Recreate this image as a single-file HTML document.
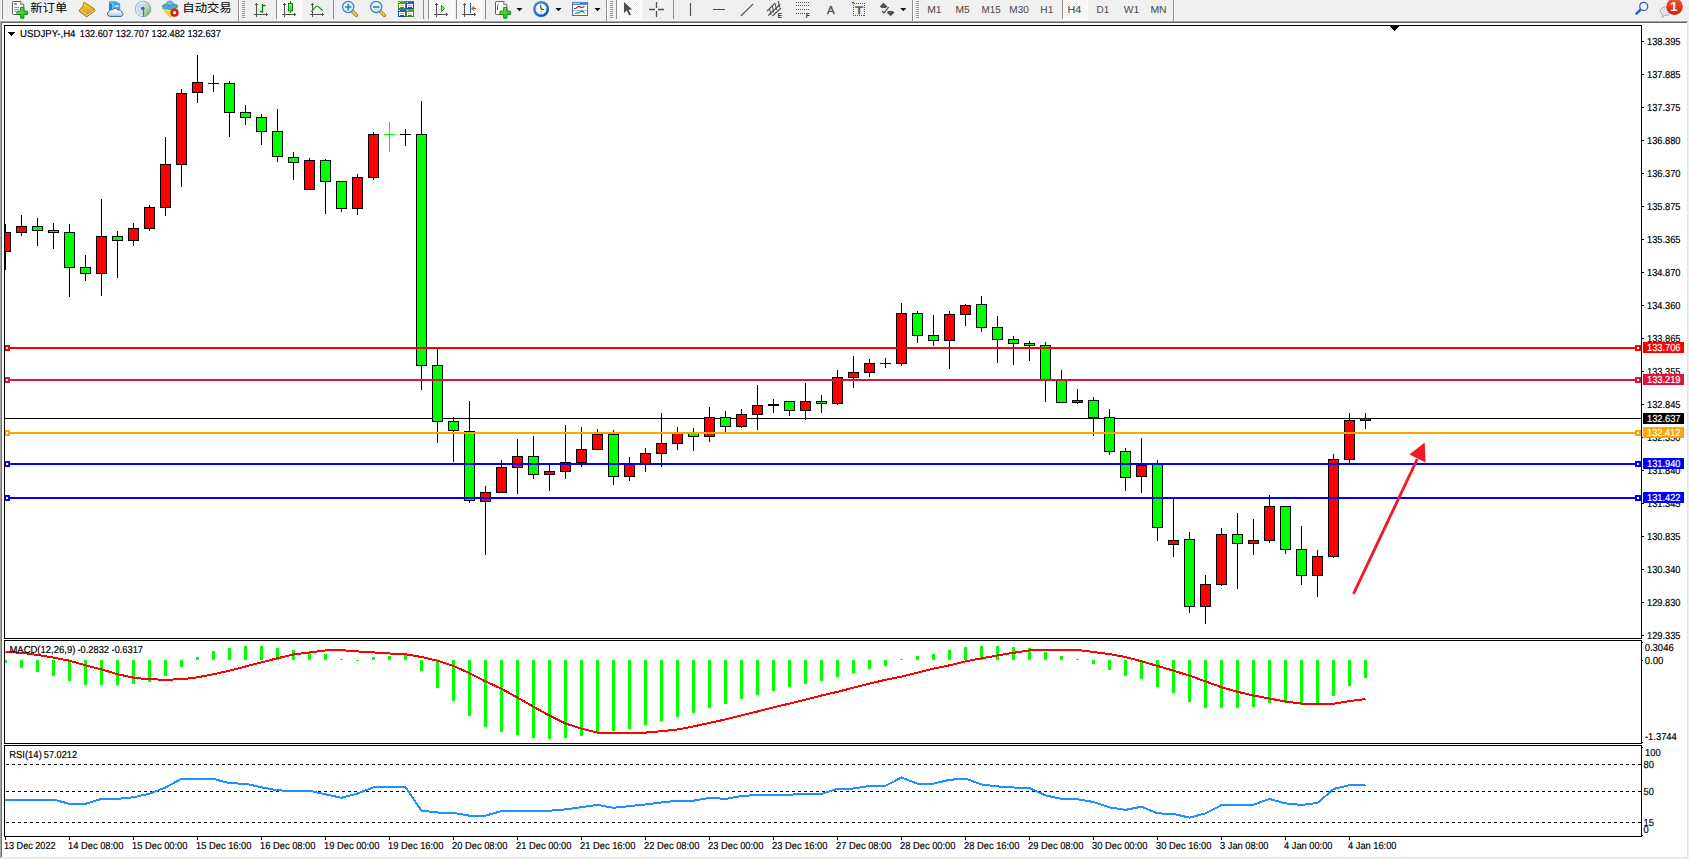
<!DOCTYPE html>
<html lang="zh"><head><meta charset="utf-8"><title>USDJPY-,H4</title>
<style>
html,body{margin:0;padding:0;background:#f0f0f0;}
body{width:1689px;height:859px;overflow:hidden;position:relative;font-family:"Liberation Sans","Noto Sans CJK SC",sans-serif;}
svg{position:absolute;left:0;top:0;display:block}
.t{font-family:"Liberation Sans","Noto Sans CJK SC",sans-serif;font-size:10.2px;fill:#000;stroke:#000;stroke-width:0.18px;text-rendering:geometricPrecision}
.w{fill:#fff;stroke:#fff}
.cj{font-family:"Liberation Sans","Noto Sans CJK SC",sans-serif;font-size:11.8px;fill:#000}
.tf{font-family:"Liberation Sans","Noto Sans CJK SC",sans-serif;font-size:10.2px;fill:#484848;text-rendering:geometricPrecision}
.c{shape-rendering:crispEdges}
</style></head><body>
<svg width="1689" height="859" viewBox="0 0 1689 859">
<rect x="0" y="0" width="1689" height="859" fill="#f0f0f0"/>
<g class="c">
<rect x="0" y="20" width="1689" height="1" fill="#f6f6f6"/>
<rect x="0" y="21" width="1688" height="1" fill="#a0a0a0"/>
<rect x="0" y="22" width="1687" height="1" fill="#696969"/>
<rect x="2" y="23" width="1685" height="834" fill="#fff"/>
<rect x="0" y="21" width="1" height="837" fill="#a6a6a6"/>
<rect x="1" y="22" width="1" height="835" fill="#6e6e6e"/>
<rect x="1687" y="23" width="1" height="834" fill="#e3e3e3"/>
<rect x="2" y="857" width="1686" height="1" fill="#e3e3e3"/>
</g>
<g id="toolbar">
<defs>
<pattern id="chk" width="2" height="2" patternUnits="userSpaceOnUse"><rect width="2" height="2" fill="#ffffff"/><rect width="1" height="1" fill="#f0f0f0"/><rect x="1" y="1" width="1" height="1" fill="#f0f0f0"/></pattern>
<linearGradient id="gp" x1="0" y1="0" x2="1" y2="1"><stop offset="0" stop-color="#7df07d"/><stop offset="1" stop-color="#10b010"/></linearGradient>
<linearGradient id="gold" x1="0" y1="0" x2="0" y2="1"><stop offset="0" stop-color="#f8d840"/><stop offset="1" stop-color="#d09818"/></linearGradient>
<linearGradient id="badge" x1="0" y1="0" x2="0" y2="1"><stop offset="0" stop-color="#ea5a3a"/><stop offset="1" stop-color="#dc1c00"/></linearGradient>
<radialGradient id="lens" cx="0.4" cy="0.35" r="0.7"><stop offset="0" stop-color="#f4fbff"/><stop offset="1" stop-color="#bfe4f7"/></radialGradient>
<g id="axes" fill="#505050" shape-rendering="crispEdges"><rect x="2" y="3" width="1" height="14"/><rect x="1" y="4" width="3" height="1"/><rect x="0" y="14" width="14" height="1"/><rect x="12" y="13" width="1" height="3"/><rect x="0.600" y="5" width="0.800" height="0.600" fill="#b0b0b0"/><rect x="3.600" y="5" width="0.800" height="0.600" fill="#b0b0b0"/></g>
<g id="dd"><path d="M0 0h6l-3 3.2z" fill="#000"/></g>
<g id="grip" fill="#9a9a9a"><rect x="0" y="1" width="3" height="1"/><rect x="0" y="3" width="3" height="1"/><rect x="0" y="5" width="3" height="1"/><rect x="0" y="7" width="3" height="1"/><rect x="0" y="9" width="3" height="1"/><rect x="0" y="11" width="3" height="1"/><rect x="0" y="13" width="3" height="1"/><rect x="0" y="15" width="3" height="1"/><rect x="0" y="17" width="3" height="1"/></g>
<g id="docplus">
<path d="M1.300 1.500h7.400l3.100 3.100v9.100a0.800 0.800 0 0 1-.8.800h-9.700a0.800 0.800 0 0 1-.8-.800v-11.400a0.800 0.800 0 0 1 .8-.800z" fill="#fff" stroke="#606060" stroke-width="1"/>
<path d="M8.700 1.500v3.100h3.100" fill="#e8e8e8" stroke="#606060" stroke-width="0.800"/>
<path d="M8.7 7.4h3.2v3.8h3.7v3.2h-3.7v3.8h-3.2v-3.8h-3.7v-3.2h3.7z" fill="url(#gp)" stroke="#0c8c0c" stroke-width="1" stroke-linejoin="round"/>
</g>
</defs>
<g class="c">
<!-- pressed button backgrounds -->
<rect x="277" y="0" width="24" height="19" fill="url(#chk)"/><rect x="301" y="0" width="1" height="20" fill="#fff"/><rect x="276" y="19" width="25" height="1" fill="#fff"/>
<rect x="429" y="0" width="24" height="19" fill="url(#chk)"/><rect x="453" y="0" width="1" height="20" fill="#fff"/><rect x="428" y="19" width="25" height="1" fill="#fff"/>
<rect x="457" y="0" width="24" height="19" fill="url(#chk)"/><rect x="481" y="0" width="1" height="20" fill="#fff"/><rect x="456" y="19" width="25" height="1" fill="#fff"/>
<rect x="617" y="0" width="24" height="19" fill="url(#chk)"/><rect x="641" y="0" width="1" height="20" fill="#fff"/><rect x="616" y="19" width="25" height="1" fill="#fff"/>
<rect x="1063" y="0" width="24" height="19" fill="url(#chk)"/><rect x="1087" y="0" width="1" height="20" fill="#fff"/><rect x="1062" y="19" width="25" height="1" fill="#fff"/>
<!-- separators -->
<g fill="#8e8e8e">
<rect x="2" y="0" width="1" height="19"/>
<rect x="238" y="0" width="1" height="21"/>
<rect x="276" y="0" width="1" height="19"/>
<rect x="333" y="0" width="1" height="19"/>
<rect x="423" y="0" width="1" height="19"/>
<rect x="428" y="0" width="1" height="19"/>
<rect x="456" y="0" width="1" height="19"/>
<rect x="485" y="0" width="1" height="19"/>
<rect x="606" y="0" width="1" height="21"/>
<rect x="616" y="0" width="1" height="19"/>
<rect x="673" y="0" width="1" height="19"/>
<rect x="912" y="0" width="1" height="21"/>
<rect x="1062" y="0" width="1" height="19"/>
<rect x="1173" y="0" width="1" height="21"/>
</g>
<g fill="#fff">
<rect x="239" y="0" width="1" height="21"/><rect x="607" y="0" width="1" height="21"/><rect x="913" y="0" width="1" height="21"/><rect x="1174" y="0" width="1" height="21"/>
</g>
<use href="#grip" x="242" y="0"/><use href="#grip" x="610" y="0"/><use href="#grip" x="916" y="0"/>
</g>
<!-- new order -->
<use href="#docplus" x="12" y="0"/>
<g fill="#9a9a9a" class="c"><rect x="14" y="3" width="3" height="2"/><rect x="14" y="7" width="5" height="1"/><rect x="14" y="9" width="5" height="1"/><rect x="14" y="11" width="3" height="1"/></g>
<text class="cj" x="30.300" y="11.600" textLength="37" lengthAdjust="spacingAndGlyphs">新订单</text>
<!-- book -->
<path d="M86.600 16.900L79 10.900 82.700 6.600 84.200 2.300 94.300 8.900 94.900 10.800z" fill="#f4eec0" stroke="#a86c10" stroke-width="1" stroke-linejoin="round"/>
<path d="M84.300 2.400L94.200 9 86.300 15 79.300 10.700 82.800 6.600z" fill="url(#gold)" stroke="#b07814" stroke-width="0.700" stroke-linejoin="round"/>
<path d="M80.300 10.200l6.400 4.300" stroke="#fbe68a" stroke-width="1" fill="none"/>
<path d="M79.400 11.300l7.200 5.200 8-6" stroke="#c08820" stroke-width="0.800" fill="none"/>
<!-- server + cloud -->
<path d="M109.100 1.500h7l4 2.400v6.600h-11z" fill="#1f98fa"/>
<path d="M109.100 1.500h7l4 2.400h-7.300z" fill="#3aa8ff"/>
<path d="M109.100 1.500l3.700 2.400v6.600h-3.700z" fill="#0a8cf0"/>
<path d="M112.800 3.900h7.300v6.600h-7.300z" fill="#38a6ff"/>
<path d="M109.300 1.700l3.500 2.300v6" stroke="#d6eeff" stroke-width="0.700" fill="none"/>
<rect x="114.300" y="5.500" width="4.500" height="1.300" fill="#eef8ff"/>
<linearGradient id="cl" x1="0" y1="0" x2="0" y2="1"><stop offset="0.250" stop-color="#ffffff"/><stop offset="1" stop-color="#b4c4de"/></linearGradient>
<path d="M110.200 16.400a2.700 2.700 0 0 1-.7-5.300 2.500 2.500 0 0 1 3.300-1.300 3 3 0 0 1 5.400.5 2.500 2.500 0 0 1 3.600 1.800 2.300 2.300 0 0 1-.9 4.300z" fill="url(#cl)" stroke="#3f5f9f" stroke-width="1"/>
<!-- signal -->
<linearGradient id="sg" x1="0.1" y1="0" x2="0.9" y2="1"><stop offset="0" stop-color="#e6f0e2"/><stop offset="0.5" stop-color="#b4d8b0"/><stop offset="1" stop-color="#3fa648"/></linearGradient>
<circle cx="143" cy="9" r="7.600" fill="#f3f3ee"/>
<path d="M143 9V1.200A7.800 7.800 0 0 1 143 16.800z" fill="url(#sg)" opacity="0.92"/>
<g fill="none" stroke-width="1.100">
<path d="M143 1.300A7.700 7.700 0 0 0 143 16.700" stroke="#7d9ae6" opacity="0.7"/>
<path d="M143 3.800A5.200 5.200 0 0 0 143 14.200" stroke="#86a2e8" opacity="0.65"/>
<path d="M143 6A3 3 0 0 0 143 12" stroke="#a8bdf0" opacity="0.7"/>
<path d="M143 1.300A7.700 7.700 0 0 1 143 16.700" stroke="#5f94a8" opacity="0.6"/>
<path d="M143 3.800A5.200 5.200 0 0 1 143 14.200" stroke="#7fb0b0" opacity="0.5"/>
<path d="M143 6A3 3 0 0 1 143 12" stroke="#9cc4b8" opacity="0.5"/>
</g>
<circle cx="142.800" cy="8.500" r="1.800" fill="#2f5ad0"/>
<path d="M143.500 9v7.700" stroke="#22a022" stroke-width="1.300" fill="none"/>
<!-- auto trading -->
<path d="M162.400 8.300l15.400-.8-6.400 9-1.600.3z" fill="#f6dc48" stroke="#c8a428" stroke-width="0.700" stroke-linejoin="round"/>
<path d="M162 6.500c.6-1.700 2.600-2.300 4.400-2.500 1.800 1.400 5.400 1.400 7.200 0 1.800.2 3.800.6 4.400 2 -1 2.200-4.400 3.200-8.200 3.200s-6.800-.9-7.800-2.700z" fill="#4aa8dc" stroke="#1f86b6" stroke-width="0.700"/>
<path d="M166.300 4.300c.2-2 1.600-3.300 3.600-3.300s3.500 1.300 3.700 3.300c-1.600 1.500-5.600 1.500-7.300 0z" fill="#6cc0ec" stroke="#1f86b6" stroke-width="0.600"/>
<circle cx="174.500" cy="12.700" r="4.100" fill="#de2810"/>
<circle cx="174.500" cy="12.700" r="3.600" fill="none" stroke="#c01800" stroke-width="0.600" opacity="0.600"/>
<rect x="173.200" y="11.300" width="2.700" height="2.700" fill="#fff"/>
<text class="cj" x="182.300" y="11.500" textLength="49.400" lengthAdjust="spacingAndGlyphs">自动交易</text>
<!-- chart type icons -->
<use href="#axes" x="254" y="0"/>
<path d="M262.500 4v9M262.500 5.500h3M259.800 11.500h2.700" stroke="#0a8a0a" stroke-width="1.300" fill="none"/>
<use href="#axes" x="282" y="0"/>
<linearGradient id="cg" x1="0" y1="0" x2="1" y2="1"><stop offset="0" stop-color="#8cff9c"/><stop offset="1" stop-color="#28cc3c"/></linearGradient>
<rect x="290" y="1" width="1" height="12" fill="#089008" class="c"/><rect x="288.500" y="3.500" width="4" height="7.500" fill="url(#cg)" stroke="#089008" stroke-width="1"/>
<use href="#axes" x="310" y="0"/>
<path d="M311 11.800c2.500-1.500 4-5.600 6.200-5.600 1.800 0 3.200 3.400 5.600 4.200" stroke="#2a9a2a" stroke-width="1.300" fill="none"/>
<!-- zoom in/out -->
<g>
<path d="M352.500 11.500l3.900 3.900" stroke="#a07810" stroke-width="3.400" stroke-linecap="round"/><path d="M352.500 11.500l3.700 3.700" stroke="#f0d030" stroke-width="1.800" stroke-linecap="round"/>
<circle cx="348.200" cy="7" r="5.600" fill="url(#lens)" stroke="#3a80cc" stroke-width="1.200"/>
<path d="M345 7h6.400M348.200 3.800v6.400" stroke="#3a82aa" stroke-width="1.700"/>
<path d="M380.500 11.500l3.900 3.900" stroke="#a07810" stroke-width="3.400" stroke-linecap="round"/><path d="M380.500 11.500l3.700 3.700" stroke="#f0d030" stroke-width="1.800" stroke-linecap="round"/>
<circle cx="376.200" cy="7" r="5.600" fill="url(#lens)" stroke="#3a80cc" stroke-width="1.200"/>
<path d="M373 7h6.400" stroke="#3a82aa" stroke-width="1.700"/>
</g>
<!-- tile windows -->
<linearGradient id="tg" x1="0" y1="0" x2="0" y2="1"><stop offset="0" stop-color="#fff" stop-opacity="0.18"/><stop offset="0.4" stop-color="#fff" stop-opacity="0"/><stop offset="1" stop-color="#000" stop-opacity="0.12"/></linearGradient>
<g class="c">
<rect x="398" y="1" width="8" height="8" fill="#3a9a12"/>
<rect x="399" y="4" width="6" height="4" fill="#fff"/>
<rect x="400" y="5" width="4" height="1" fill="#a8dc90"/>
<rect x="400" y="7" width="4" height="1" fill="#3a9a12"/>
<rect x="399" y="2" width="1" height="1" fill="#e8f0ff"/>
<rect x="398" y="1" width="8" height="8" fill="url(#tg)"/>
<rect x="406" y="1" width="8" height="8" fill="#1c48c8"/>
<rect x="407" y="4" width="6" height="4" fill="#fff"/>
<rect x="408" y="5" width="4" height="1" fill="#9ab0f4"/>
<rect x="408" y="7" width="4" height="1" fill="#1c48c8"/>
<rect x="407" y="2" width="1" height="1" fill="#e8f0ff"/>
<rect x="406" y="1" width="8" height="8" fill="url(#tg)"/>
<rect x="398" y="9" width="8" height="8" fill="#1c48c8"/>
<rect x="399" y="12" width="6" height="4" fill="#fff"/>
<rect x="400" y="13" width="4" height="1" fill="#9ab0f4"/>
<rect x="400" y="15" width="4" height="1" fill="#1c48c8"/>
<rect x="399" y="10" width="1" height="1" fill="#e8f0ff"/>
<rect x="398" y="9" width="8" height="8" fill="url(#tg)"/>
<rect x="406" y="9" width="8" height="8" fill="#3a9a12"/>
<rect x="407" y="12" width="6" height="4" fill="#fff"/>
<rect x="408" y="13" width="4" height="1" fill="#a8dc90"/>
<rect x="408" y="15" width="4" height="1" fill="#3a9a12"/>
<rect x="407" y="10" width="1" height="1" fill="#e8f0ff"/>
<rect x="406" y="9" width="8" height="8" fill="url(#tg)"/>
</g>
<!-- autoscroll / shift -->
<use href="#axes" x="434" y="0"/>
<path d="M441.400 5.300l3.300 3.200-3.300 3.200z" fill="#7fe07f" stroke="#0a9a0a" stroke-width="1"/>
<use href="#axes" x="462" y="0"/>
<rect x="470" y="3" width="1" height="10" fill="#1a6a9c" class="c"/>
<path d="M471.300 8.500l2.700-2.300-.4 1.900h2.400v0.800h-2.400l.4 1.900z" fill="#ec5c00" stroke="#9a3a00" stroke-width="0.300"/>
<!-- indicators doc plus -->
<use href="#docplus" x="495" y="0"/>
<path d="M499 4.500c-1.500 0-1.500 1.200-1.500 2.500v3" stroke="#555" stroke-width="0.900" fill="none"/>
<use href="#dd" x="516.500" y="8"/>
<!-- clock -->
<linearGradient id="ck" x1="0.2" y1="0" x2="0.8" y2="1"><stop offset="0" stop-color="#3a9cf8"/><stop offset="1" stop-color="#0a48a8"/></linearGradient>
<circle cx="541.100" cy="9" r="8" fill="url(#ck)"/>
<circle cx="541.100" cy="9" r="5.500" fill="#fcfcfc"/>
<g stroke="#9a9a9a" stroke-width="0.700"><path d="M541.100 4v1M541.100 13v1M536.100 9h1M545.100 9h1M537.600 5.500l.7.700M544.600 5.500l-.7.700M537.600 12.500l.7-.7M544.600 12.500l-.7-.7"/></g>
<path d="M540.700 5.200l.3 4 2.700.2" stroke="#111" stroke-width="1" fill="none"/>
<path d="M539.900 11.700h2.400" stroke="#6aa8f0" stroke-width="0.700"/>
<use href="#dd" x="555.500" y="8"/>
<!-- templates -->
<g class="c"><rect x="572" y="2" width="16" height="14" fill="#fff" stroke="none"/><rect x="572" y="2" width="16" height="3" fill="#4a88d8"/><rect x="573" y="3" width="7" height="1" fill="#a8ccf4"/><rect x="572" y="2" width="1" height="14" fill="#3a6fc0"/><rect x="587" y="2" width="1" height="14" fill="#3a6fc0"/><rect x="572" y="15" width="16" height="1" fill="#3a6fc0"/><rect x="573" y="10" width="14" height="1" fill="#9ab8e0"/></g>
<path d="M574 8.500l2-.2 1.500-1.300 2-.6 1.500 1 2-.2 1.500-1" stroke="#a02000" stroke-width="1.100" fill="none"/>
<path d="M575 13.800l2-1 1.500.4 2.500-2 2 .4 1.500 1.800" stroke="#109030" stroke-width="1.100" fill="none"/>
<use href="#dd" x="594.500" y="8"/>
<!-- cursor -->
<path d="M624 2v11.200l2.700-2.600 2.500 5 1.800-.9-2.500-4.900 3.700-.3z" fill="#505050"/>
<!-- crosshair -->
<path d="M656.500 2v6M656.500 11v6M649 9.500h6M658 9.500h6" stroke="#505050" stroke-width="1.300" fill="none"/>
<!-- vline, hline, trend -->
<path d="M690.500 3v13M713 9.500h12M740.800 16L753.200 3.800" stroke="#505050" stroke-width="1.150" fill="none"/>
<!-- channel -->
<g stroke="#505050" stroke-width="1.200" fill="none"><path d="M767 11.200L775 3.200M768.300 15.500L780.200 4.300M772.500 16L781 8"/><path d="M769.500 8.500l1.500 6.500M772.300 6l1.500 6.500M775.100 3.500l1.500 6.500M778.300 1l1.200 6.500" stroke-width="1.100"/></g>
<text x="777.800" y="17.600" style="font-family:'Liberation Sans',sans-serif;font-size:6.500px;font-weight:bold;fill:#333">E</text>
<!-- fibo -->
<g stroke="#505050" stroke-width="1" stroke-dasharray="1 1" class="c"><path d="M796 2.500h14M796 5.500h14M796 9.500h14M796 13.500h10"/></g>
<text x="805.800" y="17.600" style="font-family:'Liberation Sans',sans-serif;font-size:6.500px;font-weight:bold;fill:#333">F</text>
<!-- A -->
<text x="827" y="14" style="font-family:'Liberation Sans',sans-serif;font-size:11.400px;fill:#505050;stroke:#505050;stroke-width:0.350">A</text>
<!-- text label -->
<rect x="853.500" y="3.500" width="11" height="12" fill="none" stroke="#505050" stroke-width="1" stroke-dasharray="1 1" class="c"/>
<text x="855" y="13.600" textLength="8.200" lengthAdjust="spacingAndGlyphs" style="font-family:'Liberation Sans',sans-serif;font-size:10.600px;fill:#505050;stroke:#505050;stroke-width:0.400;text-rendering:geometricPrecision">T</text>
<rect x="852" y="2" width="2" height="1.500" fill="#505050"/>
<!-- arrows -->
<path d="M879.800 6.400l3.800-3.600 3.800 3.600-1.600 1.700h-4.400z" fill="#505050"/>
<path d="M882 11.200l2 1.600 4.600-5.600" stroke="#505050" stroke-width="1.300" fill="none"/>
<path d="M886.800 12.600l1.600-1.700h4.400l1.600 1.700-3.800 3.600z" fill="#505050"/>
<use href="#dd" x="900.300" y="8"/>
<!-- timeframes -->
<g class="tf">
<text x="927.300" y="13" textLength="14.3" lengthAdjust="spacingAndGlyphs">M1</text>
<text x="955.500" y="13" textLength="14.3" lengthAdjust="spacingAndGlyphs">M5</text>
<text x="981.600" y="13" textLength="19.0" lengthAdjust="spacingAndGlyphs">M15</text>
<text x="1009.300" y="13" textLength="19.5" lengthAdjust="spacingAndGlyphs">M30</text>
<text x="1040.300" y="13" textLength="13.0" lengthAdjust="spacingAndGlyphs">H1</text>
<text x="1067.400" y="13" textLength="13.8" lengthAdjust="spacingAndGlyphs" fill="#444">H4</text>
<text x="1096.600" y="13" textLength="12.6" lengthAdjust="spacingAndGlyphs">D1</text>
<text x="1123.800" y="13" textLength="15.4" lengthAdjust="spacingAndGlyphs">W1</text>
<text x="1150.400" y="13" textLength="16.3" lengthAdjust="spacingAndGlyphs">MN</text>
</g>
<!-- search -->
<path d="M1640.800 9.400l-4.300 4.300" stroke="#2a5fd0" stroke-width="2.600" stroke-linecap="round"/>
<circle cx="1643.700" cy="6.400" r="4" fill="#f4f4ff" stroke="#2a5fd0" stroke-width="1.300"/>
<!-- chat + badge -->
<path d="M1660.300 11.200a5.500 4.400 0 1 1 5.500 4.400c-.6 0-1.200 0-1.700-.2l-1.600 2.200.1-2.800a4.600 4.600 0 0 1-2.300-3.600z" fill="#e2e2ec" stroke="#a8a8a8" stroke-width="0.900"/>
<circle cx="1674.500" cy="6.600" r="8.300" fill="url(#badge)"/>
<text x="1670.300" y="11.200" style="font-family:'Liberation Sans',sans-serif;font-size:13px;font-weight:bold;fill:#fff">1</text>
</g>

<clipPath id="clipc"><rect x="4" y="23" width="1685" height="836"/></clipPath><g id="chart" clip-path="url(#clipc)">
<g class="c">
<rect x="5" y="418" width="1636" height="1" fill="#000"/>
<rect x="5" y="224" width="1" height="46" fill="#000"/>
<rect x="0" y="232" width="11" height="20" fill="#000"/>
<rect x="1" y="233" width="9" height="18" fill="#ff0000"/>
<rect x="21" y="215" width="1" height="21" fill="#000"/>
<rect x="16" y="226" width="11" height="7" fill="#000"/>
<rect x="17" y="227" width="9" height="5" fill="#ff0000"/>
<rect x="37" y="218" width="1" height="28" fill="#000"/>
<rect x="32" y="226" width="11" height="5" fill="#000"/>
<rect x="33" y="227" width="9" height="3" fill="#00ff00"/>
<rect x="53" y="223" width="1" height="26" fill="#000"/>
<rect x="48" y="230" width="11" height="3" fill="#000"/>
<rect x="49" y="231" width="9" height="1" fill="#00ff00"/>
<rect x="69" y="224" width="1" height="73" fill="#000"/>
<rect x="64" y="232" width="11" height="36" fill="#000"/>
<rect x="65" y="233" width="9" height="34" fill="#00ff00"/>
<rect x="85" y="255" width="1" height="26" fill="#000"/>
<rect x="80" y="267" width="11" height="7" fill="#000"/>
<rect x="81" y="268" width="9" height="5" fill="#00ff00"/>
<rect x="101" y="199" width="1" height="97" fill="#000"/>
<rect x="96" y="236" width="11" height="38" fill="#000"/>
<rect x="97" y="237" width="9" height="36" fill="#ff0000"/>
<rect x="117" y="231" width="1" height="47" fill="#000"/>
<rect x="112" y="236" width="11" height="5" fill="#000"/>
<rect x="113" y="237" width="9" height="3" fill="#00ff00"/>
<rect x="133" y="223" width="1" height="23" fill="#000"/>
<rect x="128" y="228" width="11" height="13" fill="#000"/>
<rect x="129" y="229" width="9" height="11" fill="#ff0000"/>
<rect x="149" y="205" width="1" height="26" fill="#000"/>
<rect x="144" y="207" width="11" height="22" fill="#000"/>
<rect x="145" y="208" width="9" height="20" fill="#ff0000"/>
<rect x="165" y="137" width="1" height="79" fill="#000"/>
<rect x="160" y="164" width="11" height="44" fill="#000"/>
<rect x="161" y="165" width="9" height="42" fill="#ff0000"/>
<rect x="181" y="89" width="1" height="98" fill="#000"/>
<rect x="176" y="93" width="11" height="72" fill="#000"/>
<rect x="177" y="94" width="9" height="70" fill="#ff0000"/>
<rect x="197" y="55" width="1" height="48" fill="#000"/>
<rect x="192" y="82" width="11" height="11" fill="#000"/>
<rect x="193" y="83" width="9" height="9" fill="#ff0000"/>
<rect x="213" y="75" width="1" height="17" fill="#000"/>
<rect x="208" y="83" width="11" height="1" fill="#000"/>
<rect x="229" y="81" width="1" height="56" fill="#000"/>
<rect x="224" y="83" width="11" height="30" fill="#000"/>
<rect x="225" y="84" width="9" height="28" fill="#00ff00"/>
<rect x="245" y="105" width="1" height="20" fill="#000"/>
<rect x="240" y="112" width="11" height="6" fill="#000"/>
<rect x="241" y="113" width="9" height="4" fill="#00ff00"/>
<rect x="261" y="114" width="1" height="31" fill="#000"/>
<rect x="256" y="117" width="11" height="15" fill="#000"/>
<rect x="257" y="118" width="9" height="13" fill="#00ff00"/>
<rect x="277" y="109" width="1" height="53" fill="#000"/>
<rect x="272" y="131" width="11" height="26" fill="#000"/>
<rect x="273" y="132" width="9" height="24" fill="#00ff00"/>
<rect x="293" y="152" width="1" height="28" fill="#000"/>
<rect x="288" y="157" width="11" height="6" fill="#000"/>
<rect x="289" y="158" width="9" height="4" fill="#00ff00"/>
<rect x="309" y="158" width="1" height="32" fill="#000"/>
<rect x="304" y="160" width="11" height="30" fill="#000"/>
<rect x="305" y="161" width="9" height="28" fill="#ff0000"/>
<rect x="325" y="159" width="1" height="55" fill="#000"/>
<rect x="320" y="160" width="11" height="22" fill="#000"/>
<rect x="321" y="161" width="9" height="20" fill="#00ff00"/>
<rect x="341" y="181" width="1" height="31" fill="#000"/>
<rect x="336" y="181" width="11" height="28" fill="#000"/>
<rect x="337" y="182" width="9" height="26" fill="#00ff00"/>
<rect x="357" y="174" width="1" height="41" fill="#000"/>
<rect x="352" y="177" width="11" height="32" fill="#000"/>
<rect x="353" y="178" width="9" height="30" fill="#ff0000"/>
<rect x="373" y="132" width="1" height="48" fill="#000"/>
<rect x="368" y="134" width="11" height="44" fill="#000"/>
<rect x="369" y="135" width="9" height="42" fill="#ff0000"/>
<rect x="389" y="122" width="1" height="30" fill="#00ff00"/>
<rect x="384" y="134" width="11" height="1" fill="#00ff00"/>
<rect x="405" y="129" width="1" height="17" fill="#000"/>
<rect x="400" y="134" width="11" height="1" fill="#000"/>
<rect x="421" y="101" width="1" height="289" fill="#000"/>
<rect x="416" y="134" width="11" height="232" fill="#000"/>
<rect x="417" y="135" width="9" height="230" fill="#00ff00"/>
<rect x="437" y="349" width="1" height="94" fill="#000"/>
<rect x="432" y="365" width="11" height="57" fill="#000"/>
<rect x="433" y="366" width="9" height="55" fill="#00ff00"/>
<rect x="453" y="417" width="1" height="45" fill="#000"/>
<rect x="448" y="421" width="11" height="10" fill="#000"/>
<rect x="449" y="422" width="9" height="8" fill="#00ff00"/>
<rect x="469" y="401" width="1" height="102" fill="#000"/>
<rect x="464" y="431" width="11" height="70" fill="#000"/>
<rect x="465" y="432" width="9" height="68" fill="#00ff00"/>
<rect x="485" y="486" width="1" height="69" fill="#000"/>
<rect x="480" y="492" width="11" height="10" fill="#000"/>
<rect x="481" y="493" width="9" height="8" fill="#ff0000"/>
<rect x="501" y="460" width="1" height="33" fill="#000"/>
<rect x="496" y="467" width="11" height="26" fill="#000"/>
<rect x="497" y="468" width="9" height="24" fill="#ff0000"/>
<rect x="517" y="439" width="1" height="55" fill="#000"/>
<rect x="512" y="456" width="11" height="12" fill="#000"/>
<rect x="513" y="457" width="9" height="10" fill="#ff0000"/>
<rect x="533" y="436" width="1" height="43" fill="#000"/>
<rect x="528" y="456" width="11" height="19" fill="#000"/>
<rect x="529" y="457" width="9" height="17" fill="#00ff00"/>
<rect x="549" y="465" width="1" height="26" fill="#000"/>
<rect x="544" y="471" width="11" height="4" fill="#000"/>
<rect x="545" y="472" width="9" height="2" fill="#ff0000"/>
<rect x="565" y="425" width="1" height="54" fill="#000"/>
<rect x="560" y="462" width="11" height="10" fill="#000"/>
<rect x="561" y="463" width="9" height="8" fill="#ff0000"/>
<rect x="581" y="427" width="1" height="40" fill="#000"/>
<rect x="576" y="449" width="11" height="14" fill="#000"/>
<rect x="577" y="450" width="9" height="12" fill="#ff0000"/>
<rect x="597" y="429" width="1" height="21" fill="#000"/>
<rect x="592" y="434" width="11" height="16" fill="#000"/>
<rect x="593" y="435" width="9" height="14" fill="#ff0000"/>
<rect x="613" y="430" width="1" height="55" fill="#000"/>
<rect x="608" y="434" width="11" height="43" fill="#000"/>
<rect x="609" y="435" width="9" height="41" fill="#00ff00"/>
<rect x="629" y="457" width="1" height="24" fill="#000"/>
<rect x="624" y="464" width="11" height="13" fill="#000"/>
<rect x="625" y="465" width="9" height="11" fill="#ff0000"/>
<rect x="645" y="448" width="1" height="24" fill="#000"/>
<rect x="640" y="453" width="11" height="12" fill="#000"/>
<rect x="641" y="454" width="9" height="10" fill="#ff0000"/>
<rect x="661" y="413" width="1" height="54" fill="#000"/>
<rect x="656" y="443" width="11" height="11" fill="#000"/>
<rect x="657" y="444" width="9" height="9" fill="#ff0000"/>
<rect x="677" y="427" width="1" height="23" fill="#000"/>
<rect x="672" y="433" width="11" height="11" fill="#000"/>
<rect x="673" y="434" width="9" height="9" fill="#ff0000"/>
<rect x="693" y="428" width="1" height="23" fill="#000"/>
<rect x="688" y="432" width="11" height="5" fill="#000"/>
<rect x="689" y="433" width="9" height="3" fill="#00ff00"/>
<rect x="709" y="407" width="1" height="35" fill="#000"/>
<rect x="704" y="417" width="11" height="20" fill="#000"/>
<rect x="705" y="418" width="9" height="18" fill="#ff0000"/>
<rect x="725" y="411" width="1" height="21" fill="#000"/>
<rect x="720" y="417" width="11" height="10" fill="#000"/>
<rect x="721" y="418" width="9" height="8" fill="#00ff00"/>
<rect x="741" y="409" width="1" height="19" fill="#000"/>
<rect x="736" y="414" width="11" height="13" fill="#000"/>
<rect x="737" y="415" width="9" height="11" fill="#ff0000"/>
<rect x="757" y="385" width="1" height="45" fill="#000"/>
<rect x="752" y="405" width="11" height="10" fill="#000"/>
<rect x="753" y="406" width="9" height="8" fill="#ff0000"/>
<rect x="773" y="399" width="1" height="14" fill="#000"/>
<rect x="768" y="404" width="11" height="2" fill="#000"/>
<rect x="789" y="401" width="1" height="15" fill="#000"/>
<rect x="784" y="401" width="11" height="10" fill="#000"/>
<rect x="785" y="402" width="9" height="8" fill="#00ff00"/>
<rect x="805" y="383" width="1" height="37" fill="#000"/>
<rect x="800" y="401" width="11" height="10" fill="#000"/>
<rect x="801" y="402" width="9" height="8" fill="#ff0000"/>
<rect x="821" y="395" width="1" height="18" fill="#000"/>
<rect x="816" y="401" width="11" height="3" fill="#000"/>
<rect x="817" y="402" width="9" height="1" fill="#00ff00"/>
<rect x="837" y="370" width="1" height="35" fill="#000"/>
<rect x="832" y="377" width="11" height="27" fill="#000"/>
<rect x="833" y="378" width="9" height="25" fill="#ff0000"/>
<rect x="853" y="356" width="1" height="32" fill="#000"/>
<rect x="848" y="372" width="11" height="6" fill="#000"/>
<rect x="849" y="373" width="9" height="4" fill="#ff0000"/>
<rect x="869" y="359" width="1" height="18" fill="#000"/>
<rect x="864" y="363" width="11" height="10" fill="#000"/>
<rect x="865" y="364" width="9" height="8" fill="#ff0000"/>
<rect x="885" y="358" width="1" height="10" fill="#000"/>
<rect x="880" y="363" width="11" height="1" fill="#000"/>
<rect x="901" y="303" width="1" height="63" fill="#000"/>
<rect x="896" y="313" width="11" height="51" fill="#000"/>
<rect x="897" y="314" width="9" height="49" fill="#ff0000"/>
<rect x="917" y="311" width="1" height="32" fill="#000"/>
<rect x="912" y="313" width="11" height="23" fill="#000"/>
<rect x="913" y="314" width="9" height="21" fill="#00ff00"/>
<rect x="933" y="315" width="1" height="31" fill="#000"/>
<rect x="928" y="335" width="11" height="6" fill="#000"/>
<rect x="929" y="336" width="9" height="4" fill="#00ff00"/>
<rect x="949" y="311" width="1" height="58" fill="#000"/>
<rect x="944" y="314" width="11" height="27" fill="#000"/>
<rect x="945" y="315" width="9" height="25" fill="#ff0000"/>
<rect x="965" y="304" width="1" height="22" fill="#000"/>
<rect x="960" y="305" width="11" height="10" fill="#000"/>
<rect x="961" y="306" width="9" height="8" fill="#ff0000"/>
<rect x="981" y="296" width="1" height="36" fill="#000"/>
<rect x="976" y="304" width="11" height="24" fill="#000"/>
<rect x="977" y="305" width="9" height="22" fill="#00ff00"/>
<rect x="997" y="316" width="1" height="47" fill="#000"/>
<rect x="992" y="327" width="11" height="13" fill="#000"/>
<rect x="993" y="328" width="9" height="11" fill="#00ff00"/>
<rect x="1013" y="336" width="1" height="29" fill="#000"/>
<rect x="1008" y="339" width="11" height="5" fill="#000"/>
<rect x="1009" y="340" width="9" height="3" fill="#00ff00"/>
<rect x="1029" y="341" width="1" height="20" fill="#000"/>
<rect x="1024" y="343" width="11" height="3" fill="#000"/>
<rect x="1025" y="344" width="9" height="1" fill="#00ff00"/>
<rect x="1045" y="342" width="1" height="60" fill="#000"/>
<rect x="1040" y="345" width="11" height="36" fill="#000"/>
<rect x="1041" y="346" width="9" height="34" fill="#00ff00"/>
<rect x="1061" y="370" width="1" height="33" fill="#000"/>
<rect x="1056" y="380" width="11" height="23" fill="#000"/>
<rect x="1057" y="381" width="9" height="21" fill="#00ff00"/>
<rect x="1077" y="389" width="1" height="15" fill="#000"/>
<rect x="1072" y="400" width="11" height="3" fill="#000"/>
<rect x="1073" y="401" width="9" height="1" fill="#ff0000"/>
<rect x="1093" y="397" width="1" height="39" fill="#000"/>
<rect x="1088" y="400" width="11" height="18" fill="#000"/>
<rect x="1089" y="401" width="9" height="16" fill="#00ff00"/>
<rect x="1109" y="409" width="1" height="46" fill="#000"/>
<rect x="1104" y="417" width="11" height="35" fill="#000"/>
<rect x="1105" y="418" width="9" height="33" fill="#00ff00"/>
<rect x="1125" y="448" width="1" height="43" fill="#000"/>
<rect x="1120" y="451" width="11" height="27" fill="#000"/>
<rect x="1121" y="452" width="9" height="25" fill="#00ff00"/>
<rect x="1141" y="438" width="1" height="55" fill="#000"/>
<rect x="1136" y="465" width="11" height="12" fill="#000"/>
<rect x="1137" y="466" width="9" height="10" fill="#ff0000"/>
<rect x="1157" y="460" width="1" height="81" fill="#000"/>
<rect x="1152" y="463" width="11" height="65" fill="#000"/>
<rect x="1153" y="464" width="9" height="63" fill="#00ff00"/>
<rect x="1173" y="497" width="1" height="60" fill="#000"/>
<rect x="1168" y="540" width="11" height="5" fill="#000"/>
<rect x="1169" y="541" width="9" height="3" fill="#ff0000"/>
<rect x="1189" y="532" width="1" height="81" fill="#000"/>
<rect x="1184" y="539" width="11" height="68" fill="#000"/>
<rect x="1185" y="540" width="9" height="66" fill="#00ff00"/>
<rect x="1205" y="575" width="1" height="49" fill="#000"/>
<rect x="1200" y="584" width="11" height="23" fill="#000"/>
<rect x="1201" y="585" width="9" height="21" fill="#ff0000"/>
<rect x="1221" y="528" width="1" height="58" fill="#000"/>
<rect x="1216" y="534" width="11" height="51" fill="#000"/>
<rect x="1217" y="535" width="9" height="49" fill="#ff0000"/>
<rect x="1237" y="513" width="1" height="76" fill="#000"/>
<rect x="1232" y="534" width="11" height="10" fill="#000"/>
<rect x="1233" y="535" width="9" height="8" fill="#00ff00"/>
<rect x="1253" y="519" width="1" height="36" fill="#000"/>
<rect x="1248" y="540" width="11" height="4" fill="#000"/>
<rect x="1249" y="541" width="9" height="2" fill="#ff0000"/>
<rect x="1269" y="495" width="1" height="48" fill="#000"/>
<rect x="1264" y="506" width="11" height="35" fill="#000"/>
<rect x="1265" y="507" width="9" height="33" fill="#ff0000"/>
<rect x="1285" y="506" width="1" height="48" fill="#000"/>
<rect x="1280" y="506" width="11" height="44" fill="#000"/>
<rect x="1281" y="507" width="9" height="42" fill="#00ff00"/>
<rect x="1301" y="526" width="1" height="59" fill="#000"/>
<rect x="1296" y="549" width="11" height="27" fill="#000"/>
<rect x="1297" y="550" width="9" height="25" fill="#00ff00"/>
<rect x="1317" y="550" width="1" height="47" fill="#000"/>
<rect x="1312" y="556" width="11" height="20" fill="#000"/>
<rect x="1313" y="557" width="9" height="18" fill="#ff0000"/>
<rect x="1333" y="454" width="1" height="104" fill="#000"/>
<rect x="1328" y="459" width="11" height="98" fill="#000"/>
<rect x="1329" y="460" width="9" height="96" fill="#ff0000"/>
<rect x="1349" y="413" width="1" height="50" fill="#000"/>
<rect x="1344" y="420" width="11" height="40" fill="#000"/>
<rect x="1345" y="421" width="9" height="38" fill="#ff0000"/>
<rect x="1365" y="413" width="1" height="16" fill="#000"/>
<rect x="1360" y="418" width="11" height="3" fill="#000"/>
<rect x="1361" y="419" width="9" height="1" fill="#ff0000"/>
</g>
<g class="c">
<rect x="5" y="347" width="1636" height="2" fill="#ff0000"/>
<rect x="4" y="345" width="6" height="6" fill="#ff0000"/><rect x="6" y="347" width="2" height="2" fill="#fff"/>
<rect x="1635" y="345" width="6" height="6" fill="#ff0000"/><rect x="1637" y="347" width="2" height="2" fill="#fff"/>
<rect x="5" y="379" width="1636" height="2" fill="#dc143c"/>
<rect x="4" y="377" width="6" height="6" fill="#dc143c"/><rect x="6" y="379" width="2" height="2" fill="#fff"/>
<rect x="1635" y="377" width="6" height="6" fill="#dc143c"/><rect x="1637" y="379" width="2" height="2" fill="#fff"/>
<rect x="5" y="432" width="1636" height="2" fill="#ffa500"/>
<rect x="4" y="430" width="6" height="6" fill="#ffa500"/><rect x="6" y="432" width="2" height="2" fill="#fff"/>
<rect x="1635" y="430" width="6" height="6" fill="#ffa500"/><rect x="1637" y="432" width="2" height="2" fill="#fff"/>
<rect x="5" y="463" width="1636" height="2" fill="#0000ff"/>
<rect x="4" y="461" width="6" height="6" fill="#0000ff"/><rect x="6" y="463" width="2" height="2" fill="#fff"/>
<rect x="1635" y="461" width="6" height="6" fill="#0000ff"/><rect x="1637" y="463" width="2" height="2" fill="#fff"/>
<rect x="5" y="497" width="1636" height="2" fill="#0000ff"/>
<rect x="4" y="495" width="6" height="6" fill="#0000ff"/><rect x="6" y="497" width="2" height="2" fill="#fff"/>
<rect x="1635" y="495" width="6" height="6" fill="#0000ff"/><rect x="1637" y="497" width="2" height="2" fill="#fff"/>
</g>
<g fill="#ed1c24" stroke="none"><path d="M1352.2 593.2 L1354.8 594.4 L1418.6 459.6 L1416 458.4 Z"/><path d="M1424.7 442.5 L1409.4 454.4 L1425.6 462.4 Z"/></g>
<g class="c">
<rect x="4" y="25" width="1638" height="1" fill="#000"/>
<rect x="4" y="25" width="1" height="812" fill="#000"/>
<rect x="1641" y="25" width="1" height="812" fill="#000"/>
<rect x="4" y="638" width="1638" height="1" fill="#000"/>
<rect x="2" y="639" width="1650" height="1" fill="#fff"/>
<rect x="4" y="640" width="1638" height="1" fill="#000"/>
<rect x="4" y="743" width="1638" height="1" fill="#000"/>
<rect x="2" y="744" width="1650" height="1" fill="#fff"/>
<rect x="4" y="745" width="1638" height="1" fill="#000"/>
<rect x="4" y="836" width="1638" height="1" fill="#000"/>
<path d="M1390 26h9v1h-1v1h-1v1h-1v1h-1v1h-1v-1h-1v-1h-1v-1h-1v-1h-1z" fill="#000"/>
<rect x="5" y="660" width="2" height="3" fill="#00ff00"/>
<rect x="20" y="660" width="3" height="8" fill="#00ff00"/>
<rect x="36" y="660" width="3" height="12" fill="#00ff00"/>
<rect x="52" y="660" width="3" height="16" fill="#00ff00"/>
<rect x="68" y="660" width="3" height="21" fill="#00ff00"/>
<rect x="84" y="660" width="3" height="25" fill="#00ff00"/>
<rect x="100" y="660" width="3" height="25" fill="#00ff00"/>
<rect x="116" y="660" width="3" height="25" fill="#00ff00"/>
<rect x="132" y="660" width="3" height="24" fill="#00ff00"/>
<rect x="148" y="660" width="3" height="22" fill="#00ff00"/>
<rect x="164" y="660" width="3" height="16" fill="#00ff00"/>
<rect x="180" y="660" width="3" height="7" fill="#00ff00"/>
<rect x="196" y="657" width="3" height="3" fill="#00ff00"/>
<rect x="212" y="651" width="3" height="9" fill="#00ff00"/>
<rect x="228" y="648" width="3" height="12" fill="#00ff00"/>
<rect x="244" y="646" width="3" height="14" fill="#00ff00"/>
<rect x="260" y="646" width="3" height="14" fill="#00ff00"/>
<rect x="276" y="648" width="3" height="12" fill="#00ff00"/>
<rect x="292" y="650" width="3" height="10" fill="#00ff00"/>
<rect x="308" y="652" width="3" height="8" fill="#00ff00"/>
<rect x="324" y="654" width="3" height="6" fill="#00ff00"/>
<rect x="340" y="659" width="3" height="1" fill="#00ff00"/>
<rect x="356" y="660" width="3" height="1" fill="#00ff00"/>
<rect x="372" y="657" width="3" height="3" fill="#00ff00"/>
<rect x="388" y="656" width="3" height="4" fill="#00ff00"/>
<rect x="404" y="655" width="3" height="5" fill="#00ff00"/>
<rect x="420" y="660" width="3" height="11" fill="#00ff00"/>
<rect x="436" y="660" width="3" height="28" fill="#00ff00"/>
<rect x="452" y="660" width="3" height="41" fill="#00ff00"/>
<rect x="468" y="660" width="3" height="56" fill="#00ff00"/>
<rect x="484" y="660" width="3" height="67" fill="#00ff00"/>
<rect x="500" y="660" width="3" height="72" fill="#00ff00"/>
<rect x="516" y="660" width="3" height="75" fill="#00ff00"/>
<rect x="532" y="660" width="3" height="78" fill="#00ff00"/>
<rect x="548" y="660" width="3" height="79" fill="#00ff00"/>
<rect x="564" y="660" width="3" height="78" fill="#00ff00"/>
<rect x="580" y="660" width="3" height="76" fill="#00ff00"/>
<rect x="596" y="660" width="3" height="73" fill="#00ff00"/>
<rect x="612" y="660" width="3" height="71" fill="#00ff00"/>
<rect x="628" y="660" width="3" height="69" fill="#00ff00"/>
<rect x="644" y="660" width="3" height="65" fill="#00ff00"/>
<rect x="660" y="660" width="3" height="61" fill="#00ff00"/>
<rect x="676" y="660" width="3" height="57" fill="#00ff00"/>
<rect x="692" y="660" width="3" height="53" fill="#00ff00"/>
<rect x="708" y="660" width="3" height="48" fill="#00ff00"/>
<rect x="724" y="660" width="3" height="44" fill="#00ff00"/>
<rect x="740" y="660" width="3" height="39" fill="#00ff00"/>
<rect x="756" y="660" width="3" height="35" fill="#00ff00"/>
<rect x="772" y="660" width="3" height="31" fill="#00ff00"/>
<rect x="788" y="660" width="3" height="27" fill="#00ff00"/>
<rect x="804" y="660" width="3" height="24" fill="#00ff00"/>
<rect x="820" y="660" width="3" height="21" fill="#00ff00"/>
<rect x="836" y="660" width="3" height="17" fill="#00ff00"/>
<rect x="852" y="660" width="3" height="13" fill="#00ff00"/>
<rect x="868" y="660" width="3" height="9" fill="#00ff00"/>
<rect x="884" y="660" width="3" height="6" fill="#00ff00"/>
<rect x="900" y="659" width="3" height="1" fill="#00ff00"/>
<rect x="916" y="656" width="3" height="4" fill="#00ff00"/>
<rect x="932" y="654" width="3" height="6" fill="#00ff00"/>
<rect x="948" y="650" width="3" height="10" fill="#00ff00"/>
<rect x="964" y="647" width="3" height="13" fill="#00ff00"/>
<rect x="980" y="646" width="3" height="14" fill="#00ff00"/>
<rect x="996" y="646" width="3" height="14" fill="#00ff00"/>
<rect x="1012" y="647" width="3" height="13" fill="#00ff00"/>
<rect x="1028" y="648" width="3" height="12" fill="#00ff00"/>
<rect x="1044" y="652" width="3" height="8" fill="#00ff00"/>
<rect x="1060" y="656" width="3" height="4" fill="#00ff00"/>
<rect x="1076" y="659" width="3" height="1" fill="#00ff00"/>
<rect x="1092" y="660" width="3" height="4" fill="#00ff00"/>
<rect x="1108" y="660" width="3" height="10" fill="#00ff00"/>
<rect x="1124" y="660" width="3" height="16" fill="#00ff00"/>
<rect x="1140" y="660" width="3" height="19" fill="#00ff00"/>
<rect x="1156" y="660" width="3" height="27" fill="#00ff00"/>
<rect x="1172" y="660" width="3" height="33" fill="#00ff00"/>
<rect x="1188" y="660" width="3" height="42" fill="#00ff00"/>
<rect x="1204" y="660" width="3" height="48" fill="#00ff00"/>
<rect x="1220" y="660" width="3" height="48" fill="#00ff00"/>
<rect x="1236" y="660" width="3" height="48" fill="#00ff00"/>
<rect x="1252" y="660" width="3" height="47" fill="#00ff00"/>
<rect x="1268" y="660" width="3" height="43" fill="#00ff00"/>
<rect x="1284" y="660" width="3" height="43" fill="#00ff00"/>
<rect x="1300" y="660" width="3" height="45" fill="#00ff00"/>
<rect x="1316" y="660" width="3" height="43" fill="#00ff00"/>
<rect x="1332" y="660" width="3" height="36" fill="#00ff00"/>
<rect x="1348" y="660" width="3" height="26" fill="#00ff00"/>
<rect x="1364" y="660" width="3" height="18" fill="#00ff00"/>
</g>
<polyline points="5.5,652 21.5,652.8 37.5,655 53.5,657.6 69.5,660.7 85.5,665.3 101.5,669.4 117.5,674.2 133.5,677.7 149.5,679.4 165.5,679.6 181.5,679.4 197.5,677.3 213.5,674.2 229.5,670.7 245.5,666.5 261.5,662.4 277.5,658.2 293.5,654.5 309.5,652.4 325.5,650.4 341.5,650.2 357.5,651.4 373.5,652.4 389.5,653.5 405.5,654.3 421.5,657 437.5,660.7 453.5,665.9 469.5,673.2 485.5,681.4 501.5,688.7 517.5,697.6 533.5,706.7 549.5,715.6 565.5,723.5 581.5,728.7 597.5,732.6 613.5,732.8 629.5,732.8 645.5,732.6 661.5,731.2 677.5,729.5 693.5,726.4 709.5,722.9 725.5,719.4 741.5,715.4 757.5,711.5 773.5,707.3 789.5,703.6 805.5,699.7 821.5,695.5 837.5,691.8 853.5,687.7 869.5,683.7 885.5,679.8 901.5,676.7 917.5,672.7 933.5,668.6 949.5,665.3 965.5,661.3 981.5,658.4 997.5,655.5 1013.5,652.8 1029.5,650.4 1045.5,650 1061.5,650 1077.5,650 1093.5,652 1109.5,654.1 1125.5,657 1141.5,661.3 1157.5,665.9 1173.5,670.7 1189.5,675.6 1205.5,681.4 1221.5,687.2 1237.5,691.8 1253.5,695.5 1269.5,698.6 1285.5,701.5 1301.5,703.6 1317.5,703.8 1333.5,703.8 1349.5,701.1 1365.5,699" fill="none" stroke="#ff0000" stroke-width="2" stroke-linejoin="round" shape-rendering="crispEdges"/>
<g class="c" stroke="#000" stroke-width="1" stroke-dasharray="3 3">
<line x1="6" y1="764.5" x2="1641" y2="764.5"/>
<line x1="6" y1="791.5" x2="1641" y2="791.5"/>
<line x1="6" y1="822.5" x2="1641" y2="822.5"/>
</g>
<polyline points="5.5,800.5 21.5,800.3 37.5,799.7 53.5,799.7 69.5,803.8 85.5,803.8 101.5,798.9 117.5,798.9 133.5,797.2 149.5,793.7 165.5,787.5 181.5,778.8 197.5,778.6 213.5,778.8 229.5,783.3 245.5,783.7 261.5,787.3 277.5,790.4 293.5,790.8 309.5,790.8 325.5,794.3 341.5,797.8 357.5,793.5 373.5,787.3 389.5,787.1 405.5,787.1 421.5,810.7 437.5,812.5 453.5,812.8 469.5,815.7 485.5,815.7 501.5,811.1 517.5,810.9 533.5,810.9 549.5,810.7 565.5,809.4 581.5,807.2 597.5,804.9 613.5,807.8 629.5,806.1 645.5,804.5 661.5,802.4 677.5,800.7 693.5,800.7 709.5,797.8 725.5,798.9 741.5,796 757.5,794.9 773.5,794.7 789.5,794.7 805.5,793.9 821.5,793.9 837.5,788.9 853.5,788.5 869.5,786 885.5,785.8 901.5,777.5 917.5,783.7 933.5,783.7 949.5,779.8 965.5,778.6 981.5,784.4 997.5,786.4 1013.5,787.5 1029.5,788.1 1045.5,795.4 1061.5,798.9 1077.5,799.3 1093.5,802 1109.5,807.4 1125.5,809.9 1141.5,806.7 1157.5,813.4 1173.5,813.8 1189.5,817.7 1205.5,813.4 1221.5,805.1 1237.5,805.1 1253.5,804.7 1269.5,798.9 1285.5,803.4 1301.5,804.9 1317.5,803 1333.5,789 1349.5,785.2 1365.5,784.8" fill="none" stroke="#1e90ff" stroke-width="2" stroke-linejoin="round" shape-rendering="crispEdges"/>
<g class="c" fill="#000">
<rect x="1642" y="41" width="2" height="1"/>
<rect x="1642" y="74" width="2" height="1"/>
<rect x="1642" y="107" width="2" height="1"/>
<rect x="1642" y="140" width="2" height="1"/>
<rect x="1642" y="173" width="2" height="1"/>
<rect x="1642" y="206" width="2" height="1"/>
<rect x="1642" y="239" width="2" height="1"/>
<rect x="1642" y="272" width="2" height="1"/>
<rect x="1642" y="305" width="2" height="1"/>
<rect x="1642" y="338" width="2" height="1"/>
<rect x="1642" y="371" width="2" height="1"/>
<rect x="1642" y="404" width="2" height="1"/>
<rect x="1642" y="437" width="2" height="1"/>
<rect x="1642" y="470" width="2" height="1"/>
<rect x="1642" y="503" width="2" height="1"/>
<rect x="1642" y="536" width="2" height="1"/>
<rect x="1642" y="569" width="2" height="1"/>
<rect x="1642" y="602" width="2" height="1"/>
<rect x="1642" y="635" width="2" height="1"/>
<rect x="1642" y="642" width="1" height="1"/>
<rect x="1642" y="660" width="1" height="1"/>
<rect x="1642" y="742" width="1" height="1"/>
<rect x="1642" y="747" width="1" height="1"/>
<rect x="1642" y="835" width="1" height="1"/>
<rect x="5" y="837" width="1" height="3"/>
<rect x="69" y="837" width="1" height="3"/>
<rect x="133" y="837" width="1" height="3"/>
<rect x="197" y="837" width="1" height="3"/>
<rect x="261" y="837" width="1" height="3"/>
<rect x="325" y="837" width="1" height="3"/>
<rect x="389" y="837" width="1" height="3"/>
<rect x="453" y="837" width="1" height="3"/>
<rect x="517" y="837" width="1" height="3"/>
<rect x="581" y="837" width="1" height="3"/>
<rect x="645" y="837" width="1" height="3"/>
<rect x="709" y="837" width="1" height="3"/>
<rect x="773" y="837" width="1" height="3"/>
<rect x="837" y="837" width="1" height="3"/>
<rect x="901" y="837" width="1" height="3"/>
<rect x="965" y="837" width="1" height="3"/>
<rect x="1029" y="837" width="1" height="3"/>
<rect x="1093" y="837" width="1" height="3"/>
<rect x="1157" y="837" width="1" height="3"/>
<rect x="1221" y="837" width="1" height="3"/>
<rect x="1285" y="837" width="1" height="3"/>
<rect x="1349" y="837" width="1" height="3"/>
</g>
<g class="t">
<text x="1647" y="45" textLength="33.5" lengthAdjust="spacingAndGlyphs">138.395</text>
<text x="1647" y="78" textLength="33.5" lengthAdjust="spacingAndGlyphs">137.885</text>
<text x="1647" y="111" textLength="33.5" lengthAdjust="spacingAndGlyphs">137.375</text>
<text x="1647" y="144" textLength="33.5" lengthAdjust="spacingAndGlyphs">136.880</text>
<text x="1647" y="177" textLength="33.5" lengthAdjust="spacingAndGlyphs">136.370</text>
<text x="1647" y="210" textLength="33.5" lengthAdjust="spacingAndGlyphs">135.875</text>
<text x="1647" y="243" textLength="33.5" lengthAdjust="spacingAndGlyphs">135.365</text>
<text x="1647" y="276" textLength="33.5" lengthAdjust="spacingAndGlyphs">134.870</text>
<text x="1647" y="309" textLength="33.5" lengthAdjust="spacingAndGlyphs">134.360</text>
<text x="1647" y="342" textLength="33.5" lengthAdjust="spacingAndGlyphs">133.865</text>
<text x="1647" y="375" textLength="33.5" lengthAdjust="spacingAndGlyphs">133.355</text>
<text x="1647" y="408" textLength="33.5" lengthAdjust="spacingAndGlyphs">132.845</text>
<text x="1647" y="441" textLength="33.5" lengthAdjust="spacingAndGlyphs">132.350</text>
<text x="1647" y="474" textLength="33.5" lengthAdjust="spacingAndGlyphs">131.840</text>
<text x="1647" y="507" textLength="33.5" lengthAdjust="spacingAndGlyphs">131.345</text>
<text x="1647" y="540" textLength="33.5" lengthAdjust="spacingAndGlyphs">130.835</text>
<text x="1647" y="573" textLength="33.5" lengthAdjust="spacingAndGlyphs">130.340</text>
<text x="1647" y="606" textLength="33.5" lengthAdjust="spacingAndGlyphs">129.830</text>
<text x="1647" y="639" textLength="33.5" lengthAdjust="spacingAndGlyphs">129.335</text>
<text x="1644.7" y="651" textLength="29" lengthAdjust="spacingAndGlyphs">0.3046</text>
<text x="1644.7" y="664" textLength="18.7" lengthAdjust="spacingAndGlyphs">0.00</text>
<text x="1645" y="739.5" textLength="31.8" lengthAdjust="spacingAndGlyphs">-1.3744</text>
<text x="1645" y="756" textLength="15.6" lengthAdjust="spacingAndGlyphs">100</text>
<text x="1643.6" y="768" textLength="10.4" lengthAdjust="spacingAndGlyphs">80</text>
<text x="1643.6" y="795" textLength="10.4" lengthAdjust="spacingAndGlyphs">50</text>
<text x="1643.6" y="826" textLength="10.4" lengthAdjust="spacingAndGlyphs">15</text>
<text x="1643.6" y="833" textLength="5.2" lengthAdjust="spacingAndGlyphs">0</text>
</g>
<g class="c">
<rect x="1643" y="342" width="41" height="11" fill="#ff0000"/>
<rect x="1643" y="374" width="41" height="11" fill="#dc143c"/>
<rect x="1643" y="427" width="41" height="11" fill="#ffa500"/>
<rect x="1643" y="458" width="41" height="11" fill="#0000ff"/>
<rect x="1643" y="492" width="41" height="11" fill="#0000ff"/>
<rect x="1643" y="413" width="41" height="11" fill="#000"/>
</g>
<g class="t w">
<text x="1647" y="351" textLength="33.5" lengthAdjust="spacingAndGlyphs">133.706</text>
<text x="1647" y="383" textLength="33.5" lengthAdjust="spacingAndGlyphs">133.219</text>
<text x="1647" y="436" textLength="33.5" lengthAdjust="spacingAndGlyphs">132.412</text>
<text x="1647" y="467" textLength="33.5" lengthAdjust="spacingAndGlyphs">131.940</text>
<text x="1647" y="501" textLength="33.5" lengthAdjust="spacingAndGlyphs">131.422</text>
<text x="1647" y="422" textLength="33.5" lengthAdjust="spacingAndGlyphs">132.637</text>
</g>
<g class="t">
<path d="M8 32h7v1h-1v1h-1v1h-1v1h-1v-1h-1v-1h-1v-1h-1z" fill="#000" stroke="none" class="c"/>
<text x="20" y="37" textLength="55.5" lengthAdjust="spacingAndGlyphs">USDJPY-,H4</text>
<text x="79.8" y="37" textLength="141" lengthAdjust="spacingAndGlyphs">132.607 132.707 132.482 132.637</text>
<text x="9.4" y="653" textLength="66" lengthAdjust="spacingAndGlyphs">MACD(12,26,9)</text>
<text x="77.5" y="653" textLength="65.5" lengthAdjust="spacingAndGlyphs">-0.2832 -0.6317</text>
<text x="9.2" y="758" textLength="32.6" lengthAdjust="spacingAndGlyphs">RSI(14)</text>
<text x="43.8" y="758" textLength="33.2" lengthAdjust="spacingAndGlyphs">57.0212</text>
<text x="4" y="849" textLength="51.5" lengthAdjust="spacingAndGlyphs">13 Dec 2022</text>
<text x="68" y="849" textLength="55.5" lengthAdjust="spacingAndGlyphs">14 Dec 08:00</text>
<text x="132" y="849" textLength="55.5" lengthAdjust="spacingAndGlyphs">15 Dec 00:00</text>
<text x="196" y="849" textLength="55.5" lengthAdjust="spacingAndGlyphs">15 Dec 16:00</text>
<text x="260" y="849" textLength="55.5" lengthAdjust="spacingAndGlyphs">16 Dec 08:00</text>
<text x="324" y="849" textLength="55.5" lengthAdjust="spacingAndGlyphs">19 Dec 00:00</text>
<text x="388" y="849" textLength="55.5" lengthAdjust="spacingAndGlyphs">19 Dec 16:00</text>
<text x="452" y="849" textLength="55.5" lengthAdjust="spacingAndGlyphs">20 Dec 08:00</text>
<text x="516" y="849" textLength="55.5" lengthAdjust="spacingAndGlyphs">21 Dec 00:00</text>
<text x="580" y="849" textLength="55.5" lengthAdjust="spacingAndGlyphs">21 Dec 16:00</text>
<text x="644" y="849" textLength="55.5" lengthAdjust="spacingAndGlyphs">22 Dec 08:00</text>
<text x="708" y="849" textLength="55.5" lengthAdjust="spacingAndGlyphs">23 Dec 00:00</text>
<text x="772" y="849" textLength="55.5" lengthAdjust="spacingAndGlyphs">23 Dec 16:00</text>
<text x="836" y="849" textLength="55.5" lengthAdjust="spacingAndGlyphs">27 Dec 08:00</text>
<text x="900" y="849" textLength="55.5" lengthAdjust="spacingAndGlyphs">28 Dec 00:00</text>
<text x="964" y="849" textLength="55.5" lengthAdjust="spacingAndGlyphs">28 Dec 16:00</text>
<text x="1028" y="849" textLength="55.5" lengthAdjust="spacingAndGlyphs">29 Dec 08:00</text>
<text x="1092" y="849" textLength="55.5" lengthAdjust="spacingAndGlyphs">30 Dec 00:00</text>
<text x="1156" y="849" textLength="55.5" lengthAdjust="spacingAndGlyphs">30 Dec 16:00</text>
<text x="1220" y="849" textLength="48.5" lengthAdjust="spacingAndGlyphs">3 Jan 08:00</text>
<text x="1284" y="849" textLength="48.5" lengthAdjust="spacingAndGlyphs">4 Jan 00:00</text>
<text x="1348" y="849" textLength="48.5" lengthAdjust="spacingAndGlyphs">4 Jan 16:00</text>
</g>
</g>
</svg></body></html>
